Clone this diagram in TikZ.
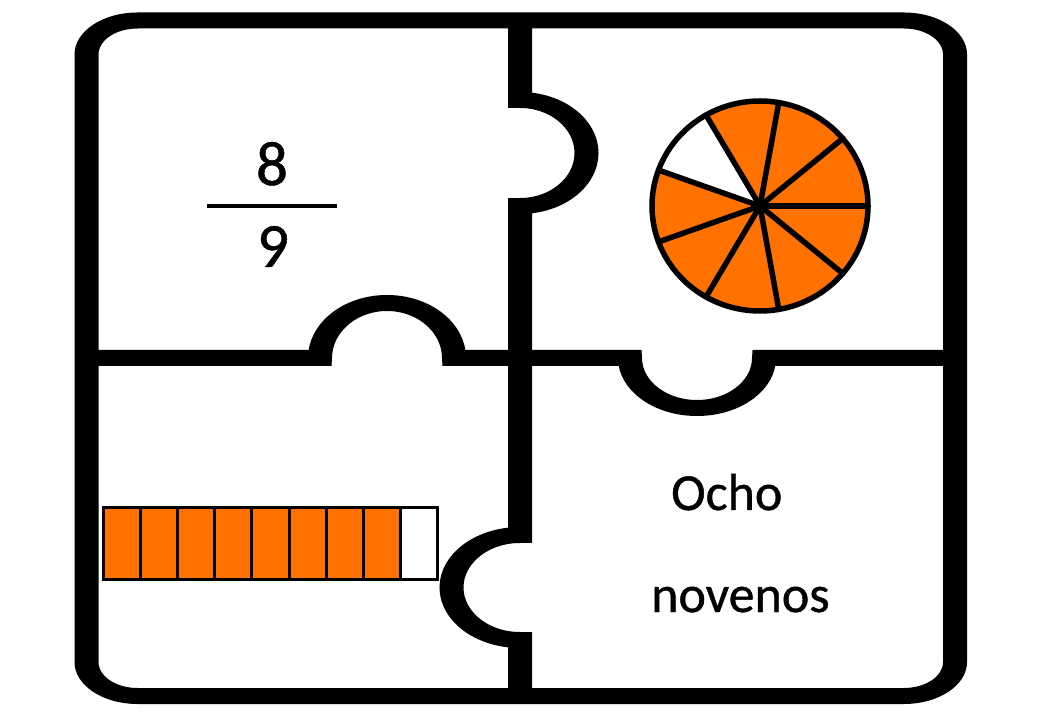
\documentclass[tikz,border=0pt]{standalone}
\usepackage{fontspec}
\setmainfont{Carlito}
\newfontfamily\heavyfont[FakeBold=0.8]{Carlito}
\definecolor{pieorange}{RGB}{255,114,0}
\begin{document}
\begin{tikzpicture}[x=1pt,y=1pt,
  frameline/.style={line width=16pt,line join=miter,line cap=butt},
  cellbox/.style={draw=black,line width=3pt,fill=pieorange},
  sectorline/.style={draw=black,line width=5.5pt,line join=round},
  bigdigit/.style={inner sep=0pt,font=\heavyfont\fontsize{63}{70}\selectfont},
  word/.style={inner sep=0pt,font=\heavyfont\fontsize{52}{60}\selectfont}]
\useasboundingbox (0,0) rectangle (1040,720);
\fill[white] (0,0) rectangle (1040,720);
% ---- pie (8 of 9 sectors) ----
\coordinate (pc) at (760,514);
\foreach \i in {0,...,8}{
  \pgfmathsetmacro{\a}{40*\i}
  \pgfmathsetmacro{\b}{40*\i+40}
  \ifnum\i=3
    \fill[white] (pc) -- ++(\a:108 and 105) arc[start angle=\a,end angle=\b,x radius=108,y radius=105] -- cycle;
  \else
    \fill[pieorange] (pc) -- ++(\a:108 and 105) arc[start angle=\a,end angle=\b,x radius=108,y radius=105] -- cycle;
  \fi
}
\foreach \i in {0,...,8}{
  \draw[sectorline,line cap=round] (pc) -- ++(40*\i:108 and 105);
}
\draw[sectorline] (pc) ellipse[x radius=108,y radius=105];
% ---- bar (8 of 9 cells) ----
\foreach \i in {0,...,7}{
  \draw[cellbox] ({103+37.22*\i},141) rectangle ++(37.22,71);
}
\draw[cellbox,fill=white] ({103+37.22*8},141) rectangle ++(37.22,71);
% ---- fraction ----
\node[bigdigit,anchor=base] (num) at (272,535) {8};
\node[bigdigit,anchor=base] (den) at (273,453) {9};
\draw[line width=4pt] (207,514) -- (337,514);
% ---- words ----
\node[word,anchor=base west] (w1) at (671,210) {Ocho};
\node[word,anchor=base west] (w2) at (651,108) {novenos};
% ---- puzzle frame ----
\begin{scope}[x=0.666667pt,transform canvas={xscale=1.5}]
  \draw[frameline,rounded corners=34pt] (86.5,24) rectangle (955,699.5);
  \draw[frameline] (520,699.5) -- (520,620)
     arc[start angle=90,end angle=-90,x radius=44.33pt,y radius=53pt]
     -- (520,362) -- (520,185)
     arc[start angle=90,end angle=270,x radius=45.67pt,y radius=52.5pt]
     -- (520,24);
  \draw[frameline] (86.5,362) -- (320,362)
     arc[start angle=180,end angle=0,x radius=44.67pt,y radius=55pt]
     -- (630,362)
     arc[start angle=180,end angle=360,x radius=44.67pt,y radius=50pt]
     -- (955,362);
\end{scope}
\end{tikzpicture}
\end{document}
